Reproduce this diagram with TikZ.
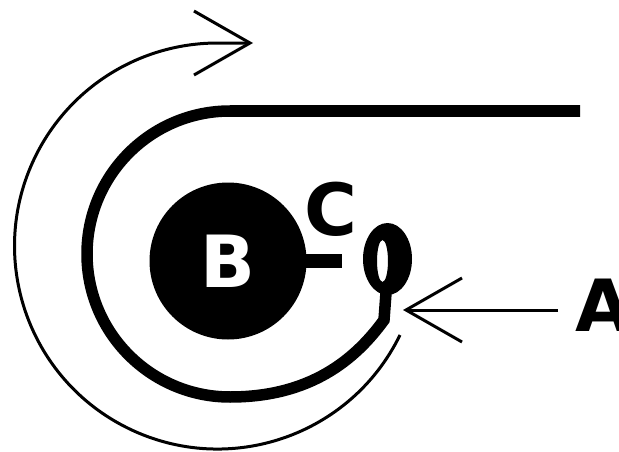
\documentclass[tikz,border=0pt]{standalone}
\usepackage{fontspec}
\setmainfont{DejaVu Sans}
\usetikzlibrary{arrows.meta}
\tikzset{
	lbl/.style={font=\bfseries\fontsize{72}{72}\selectfont, inner sep=0pt},
	barb/.style={-{Straight Barb[length=56pt, width=64pt]}, line width=3pt},
}
\begin{document}
\begin{tikzpicture}[x=1pt, y=-1pt]
	\useasboundingbox (0,0) rectangle (619,452);
	% ball and its stub
	\node[circle, fill=black, minimum size=157pt, inner sep=0pt, lbl, text=white] (B) at (228,261) {B};
	\coordinate (stub) at (342,261);
	\draw[line width=14pt] (B.east) ++(-4,0) -- (stub);
	\node[lbl] (C) at (331,209) {C};
	% loop at the end of the rope
	\fill[even odd rule] (387.5,259) ellipse [x radius=24.5, y radius=36] (382.5,261) ellipse [x radius=5.5, y radius=21];
	\coordinate (loop) at (386,293);
	\coordinate (rope) at (580,111);
	\draw[line width=11.5pt] (rope) -- (230,111) arc[start angle=270, end angle=90, radius=143]
		.. controls (310,397) and (355,360) .. (384,320) -- (loop);
	% pull arrow
	\node[lbl] (A) at (603,305) {A};
	\coordinate (Atail) at (558,310);
	\coordinate (Atip) at (403,310);
	\draw[barb] (Atail) -- (Atip);
	% turning arrow
	\coordinate (turn) at (400,335);
	\coordinate (turntip) at (253,43);
	\draw[barb] (turn) arc[start angle=26, end angle=270, radius=203] -- (turntip);
\end{tikzpicture}
\end{document}
